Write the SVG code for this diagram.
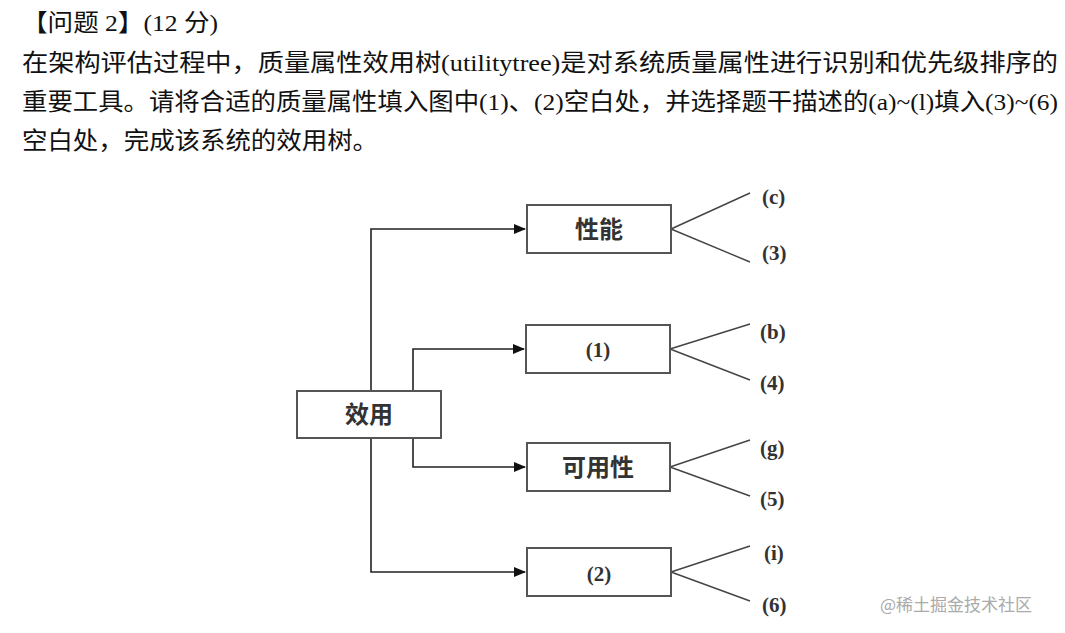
<svg xmlns="http://www.w3.org/2000/svg" width="1065" height="633" viewBox="0 0 1065 633">
<style>
.t{font-family:"Liberation Serif","Noto Sans CJK SC",serif;font-size:24px;fill:#111}
.box{fill:#fff;stroke:#555;stroke-width:2}
.bl{font-family:"Noto Sans CJK SC",sans-serif;font-size:24px;fill:#333;text-anchor:middle;font-weight:bold}
.nl{font-family:"Liberation Serif",serif;font-size:21px;fill:#333;font-weight:bold}
.c{fill:none;stroke:#222;stroke-width:1.6}
.l{stroke:#444;stroke-width:1.4}
</style>
<defs><marker id="a" markerWidth="12" markerHeight="10" refX="11" refY="5" orient="auto" markerUnits="userSpaceOnUse"><path d="M0,0L12,5L0,10z" fill="#111"/></marker></defs>
<rect width="1065" height="633" fill="#fff"/>
<text class="t" x="22" y="31" textLength="196" lengthAdjust="spacingAndGlyphs">【问题 2】(12 分)</text>
<text class="t" x="22" y="71" textLength="1036" lengthAdjust="spacingAndGlyphs">在架构评估过程中，质量属性效用树(utilitytree)是对系统质量属性进行识别和优先级排序的</text>
<text class="t" x="22" y="110" textLength="1036" lengthAdjust="spacingAndGlyphs">重要工具。请将合适的质量属性填入图中(1)、(2)空白处，并选择题干描述的(a)~(l)填入(3)~(6)</text>
<text class="t" x="22" y="149" textLength="356" lengthAdjust="spacingAndGlyphs">空白处，完成该系统的效用树。</text>
<g id="connectors">
<path class="c" d="M371,391V229H525" marker-end="url(#a)"/>
<path class="c" d="M413,391V349H524" marker-end="url(#a)"/>
<path class="c" d="M413,438V467H525" marker-end="url(#a)"/>
<path class="c" d="M371,438V572H525" marker-end="url(#a)"/>
<path class="l" d="M671,229L750,193M671,229L750,262M670,349L750,324M670,349L750,380M670,467L750,440M670,467L750,496M671,572L750,546M671,572L750,601"/>
</g>
<g id="n0"><rect class="box" x="297" y="391" width="144" height="47"/><text class="bl" x="369" y="423">效用</text></g>
<g id="n1"><rect class="box" x="527" y="205" width="144" height="48"/><text class="bl" x="599" y="238">性能</text></g>
<g id="n2"><rect class="box" x="526" y="325" width="144" height="48"/><text class="nl" x="598" y="357" text-anchor="middle">(1)</text></g>
<g id="n3"><rect class="box" x="527" y="443" width="143" height="48"/><text class="bl" x="598" y="476">可用性</text></g>
<g id="n4"><rect class="box" x="527" y="548" width="144" height="48"/><text class="nl" x="599" y="581" text-anchor="middle">(2)</text></g>
<g id="leaves">
<text class="nl" x="762" y="204">(c)</text><text class="nl" x="762" y="260">(3)</text>
<text class="nl" x="760" y="339">(b)</text><text class="nl" x="760" y="390">(4)</text>
<text class="nl" x="760" y="455">(g)</text><text class="nl" x="760" y="506">(5)</text>
<text class="nl" x="764" y="560">(i)</text><text class="nl" x="762" y="612">(6)</text>
</g>
<text x="880" y="611" style="font-family:'Noto Sans CJK SC',sans-serif;font-size:17px;fill:#aaa">@稀土掘金技术社区</text>
</svg>
